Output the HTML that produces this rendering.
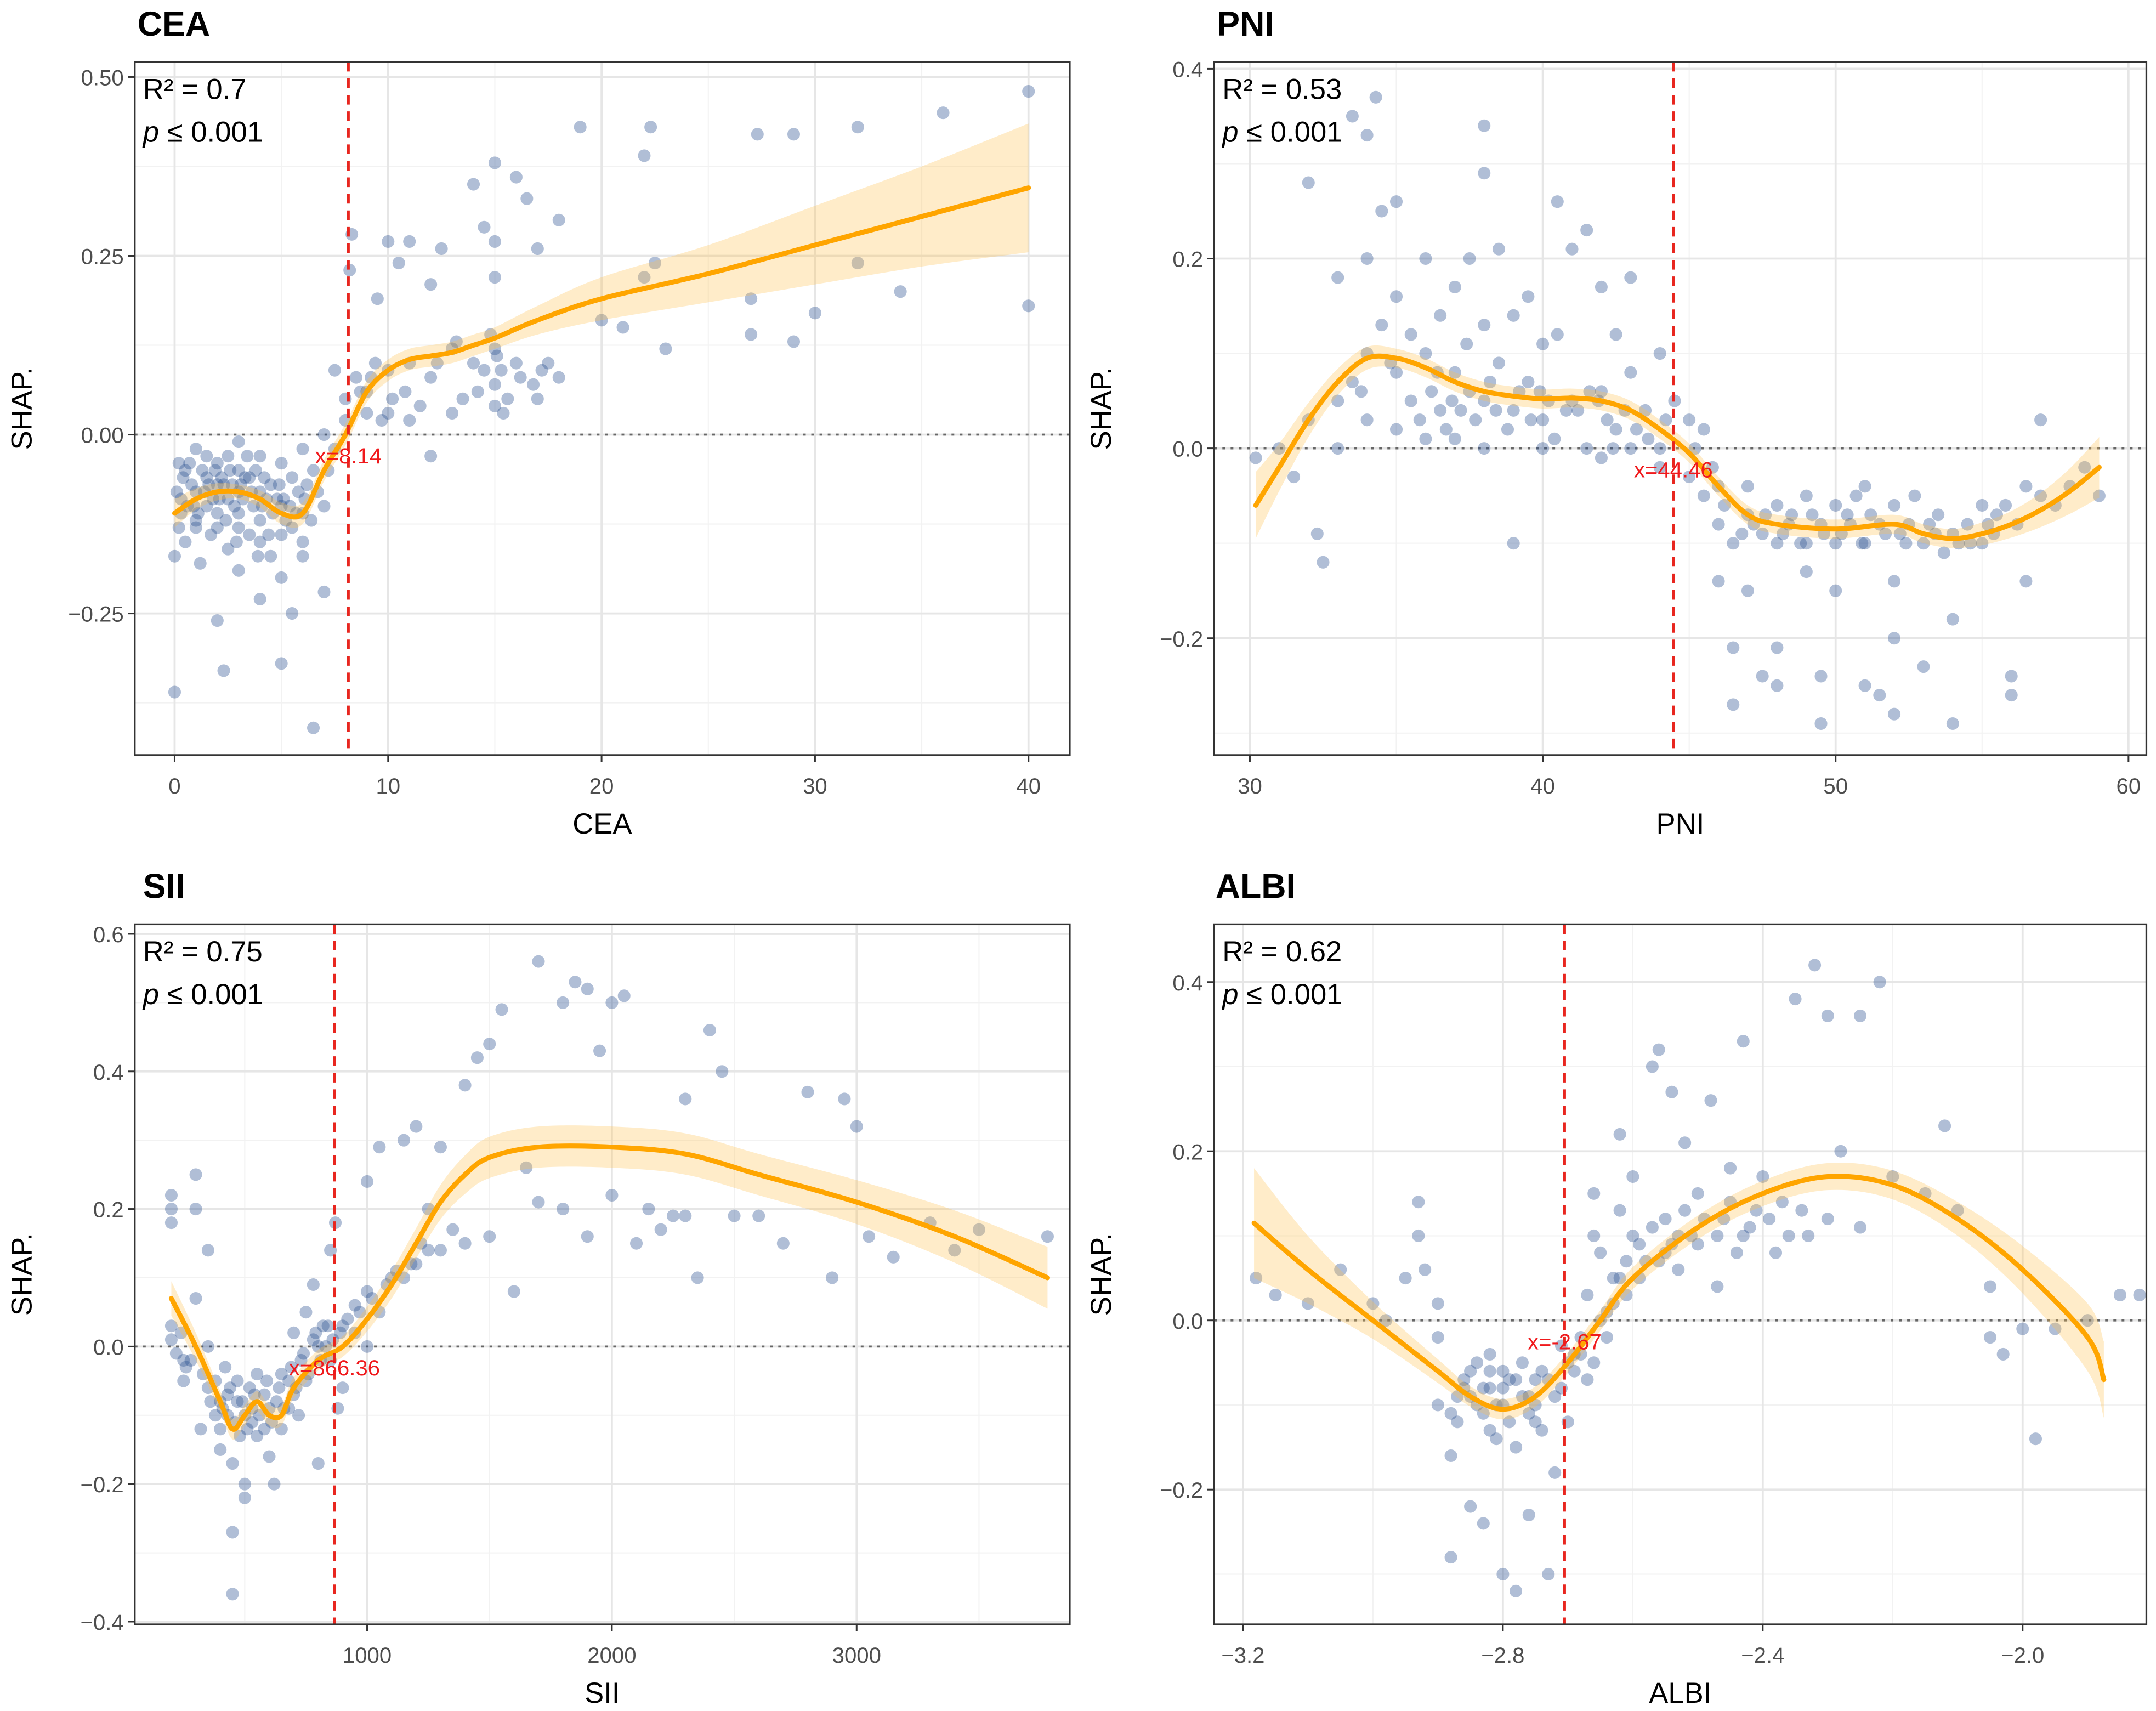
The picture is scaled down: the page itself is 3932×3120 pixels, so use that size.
<!DOCTYPE html>
<html><head><meta charset="utf-8">
<style>
html,body{margin:0;padding:0;background:#fff;}
svg{display:block;font-family:"Liberation Sans",Arial,sans-serif;}
</style></head>
<body>
<svg id="chart" width="3932" height="3120" viewBox="0 0 1568 1244" preserveAspectRatio="none" xmlns="http://www.w3.org/2000/svg"></svg>
<script>
// ---------- DATA ----------
const ceaPoints=[[0,-0.36],[0,-0.17],[0.2,-0.13],[0.3,-0.09],[0.5,-0.05],[0.5,-0.15],[1,-0.02],[1,-0.08],[1,-0.12],[1.2,-0.18],[1.5,-0.06],[1.5,-0.1],[2,-0.04],[2,-0.07],[2,-0.13],[2,-0.26],[2.3,-0.33],[2.5,-0.09],[2.5,-0.16],[3,-0.01],[3,-0.05],[3,-0.08],[3,-0.11],[3,-0.19],[3.5,-0.06],[3.5,-0.14],[4,-0.03],[4,-0.08],[4,-0.12],[4,-0.23],[4.5,-0.07],[4.5,-0.17],[5,-0.04],[5,-0.1],[5,-0.2],[5,-0.32],[5.5,-0.06],[5.5,-0.13],[5.5,-0.25],[6,-0.02],[6,-0.11],[6,-0.15],[6.5,-0.05],[6.5,-0.41],[7,-0.1],[7,-0.22],[7,0.0],[7.5,0.09],[7.5,-0.02],[8,0.05],[8,0.02],[8.2,0.23],[8.3,0.28],[8.5,0.08],[9,0.06],[9,0.03],[9.5,0.19],[10,0.27],[10,0.09],[10,0.03],[10.5,0.24],[11,0.27],[11,0.1],[11,0.02],[12,0.21],[12,0.08],[12,-0.03],[12.5,0.26],[13,0.12],[13,0.03],[14,0.35],[14,0.1],[14.5,0.29],[15,0.38],[15,0.27],[15,0.22],[15,0.12],[15,0.07],[15,0.04],[16,0.36],[16,0.1],[16.5,0.33],[17,0.26],[17,0.05],[18,0.3],[18,0.08],[19,0.43],[20,0.16],[21,0.15],[22,0.22],[22,0.39],[22.3,0.43],[22.5,0.24],[23,0.12],[27,0.19],[27,0.14],[27.3,0.42],[29,0.42],[29,0.13],[30,0.17],[32,0.43],[32,0.24],[34,0.2],[36,0.45],[40,0.48],[40,0.18],
[0.8,-0.07],[1.3,-0.05],[1.8,-0.09],[2.2,-0.06],[2.7,-0.07],[3.2,-0.09],[3.7,-0.1],[4.2,-0.06],[4.8,-0.09],[5.2,-0.12],[5.8,-0.08],[6.2,-0.07],[1.1,-0.11],[2.4,-0.12],[3.4,-0.03],[4.4,-0.14],[0.6,-0.1],[1.7,-0.14],[2.9,-0.15],[3.9,-0.17],[9.2,0.08],[9.7,0.02],[10.8,0.06],[13.5,0.05],[14.2,0.06],[15.3,0.09],[15.6,0.05],[16.2,0.08],[17.5,0.1],[14.8,0.14],[13.2,0.13],
[0.1,-0.08],[0.4,-0.06],[0.7,-0.04],[0.9,-0.1],[1.4,-0.08],[1.6,-0.07],[1.9,-0.05],[2.1,-0.09],[2.3,-0.07],[2.6,-0.05],[2.8,-0.1],[3.1,-0.07],[3.3,-0.06],[3.6,-0.08],[3.8,-0.05],[4.1,-0.1],[4.3,-0.09],[4.6,-0.11],[4.9,-0.07],[5.1,-0.09],[5.4,-0.1],[5.7,-0.11],[6.1,-0.09],[6.4,-0.12],[6.7,-0.08],[7.2,-0.05],[0.3,-0.11],[1.0,-0.13],[2.0,-0.11],[3.0,-0.13],[4.0,-0.15],[5.0,-0.14],[6.0,-0.17],[1.5,-0.03],[2.5,-0.03],[0.2,-0.04],[8.7,0.06],[9.4,0.1],[10.2,0.05],[11.5,0.04],[12.3,0.1],[14.5,0.09],[15.1,0.11],[15.4,0.03],[16.8,0.07],[17.2,0.09]];
const ceaCurveX=[0,1,2,3,4,5,6,7,8,9,10,11,12,13,14,15,17,20,25,30,35,40];
const ceaCurveY=[-0.11,-0.09,-0.08,-0.08,-0.09,-0.11,-0.11,-0.05,0.0,0.06,0.09,0.105,0.11,0.115,0.125,0.135,0.16,0.19,0.225,0.265,0.305,0.345];
const ceaCurveSE=[0.02,0.015,0.012,0.01,0.012,0.015,0.015,0.015,0.015,0.015,0.015,0.015,0.015,0.015,0.015,0.015,0.02,0.03,0.04,0.055,0.07,0.09];

const pniPoints=[[30.2,-0.01],[31,0.0],[31.5,-0.03],[32,0.28],[32,0.03],[32.3,-0.09],[32.5,-0.12],[33,0.18],[33,0.05],[33,0.0],[33.5,0.35],[33.5,0.07],[34,0.33],[34,0.2],[34,0.1],[34,0.03],[34.3,0.37],[34.5,0.25],[34.5,0.13],[35,0.26],[35,0.16],[35,0.08],[35,0.02],[35.5,0.12],[35.5,0.05],[36,0.2],[36,0.1],[36,0.01],[36.5,0.14],[36.5,0.04],[37,0.17],[37,0.08],[37,0.01],[37.5,0.2],[37.5,0.06],[38,0.34],[38,0.29],[38,0.13],[38,0.05],[38,0.0],[38.5,0.21],[38.5,0.09],[39,0.14],[39,0.04],[39,-0.1],[39.5,0.16],[39.5,0.07],[40,0.11],[40,0.03],[40,0.0],[40.5,0.26],[40.5,0.12],[41,0.21],[41,0.05],[41.5,0.23],[41.5,0.0],[42,0.17],[42,0.06],[42,-0.01],[42.5,0.12],[42.5,0.02],[43,0.18],[43,0.08],[43,0.0],[43.5,0.04],[44,0.1],[44,0.0],[44,-0.02],[44.5,0.05],[45,0.03],[45,-0.03],[45.5,0.02],[45.5,-0.05],[46,-0.04],[46,-0.08],[46,-0.14],[46.5,-0.1],[46.5,-0.21],[46.5,-0.27],[47,-0.04],[47,-0.07],[47,-0.15],[47.5,-0.09],[47.5,-0.24],[48,-0.06],[48,-0.1],[48,-0.21],[48,-0.25],[48.5,-0.07],[49,-0.05],[49,-0.1],[49,-0.13],[49.5,-0.08],[49.5,-0.24],[49.5,-0.29],[50,-0.06],[50,-0.1],[50,-0.15],[50.5,-0.08],[51,-0.04],[51,-0.1],[51,-0.25],[51.5,-0.08],[51.5,-0.26],[52,-0.06],[52,-0.14],[52,-0.2],[52,-0.28],[52.5,-0.08],[53,-0.1],[53,-0.23],[53.5,-0.07],[54,-0.09],[54,-0.18],[54,-0.29],[54.5,-0.08],[55,-0.06],[55,-0.1],[55.5,-0.07],[56,-0.24],[56,-0.26],[56.5,-0.14],[56.5,-0.04],[57,0.03],[57,-0.05],[58,-0.04],[59,-0.05],[58.5,-0.02],
[36.2,0.06],[37.2,0.04],[38.2,0.07],[39.2,0.06],[40.2,0.05],[41.2,0.04],[42.2,0.03],[43.2,0.02],[36.7,0.02],[37.7,0.03],[47.2,-0.08],[48.2,-0.09],[49.2,-0.07],[50.2,-0.09],[51.2,-0.07],[52.2,-0.09],[53.2,-0.08],[54.2,-0.1],[55.2,-0.08],[50.7,-0.05],[52.7,-0.05],[53.7,-0.11],
[33.8,0.06],[34.8,0.09],[35.8,0.03],[36.4,0.08],[37.4,0.11],[38.4,0.04],[38.8,0.02],[39.6,0.03],[40.4,0.01],[40.8,0.04],[41.6,0.06],[42.4,0.0],[42.8,0.04],[43.6,0.01],[44.2,0.03],[45.2,0.0],[45.8,-0.02],[46.2,-0.06],[46.8,-0.09],[47.6,-0.07],[48.4,-0.08],[48.8,-0.1],[49.6,-0.09],[50.4,-0.07],[50.9,-0.1],[51.7,-0.09],[52.4,-0.1],[53.4,-0.09],[54.6,-0.1],[55.4,-0.09],[55.8,-0.06],[56.2,-0.08],[57.5,-0.06],[36.9,0.05],[39.9,0.06],[41.9,0.05]];
const pniCurveX=[30.2,31,32,33,34,35,36,37,38,39,40,41,42,43,44,45,46,47,48,50,52,53,54,55,56,57,58,59];
const pniCurveY=[-0.06,-0.02,0.03,0.07,0.095,0.095,0.085,0.07,0.06,0.055,0.052,0.053,0.05,0.04,0.02,-0.005,-0.04,-0.07,-0.08,-0.085,-0.08,-0.09,-0.095,-0.09,-0.08,-0.065,-0.045,-0.02];
const pniCurveSE=[0.035,0.025,0.018,0.014,0.012,0.01,0.01,0.01,0.01,0.01,0.01,0.01,0.01,0.01,0.01,0.01,0.01,0.01,0.01,0.01,0.01,0.01,0.01,0.012,0.014,0.018,0.024,0.032];

const siiPoints=[[200,0.22],[200,0.2],[200,0.18],[200,0.03],[200,0.01],[250,-0.02],[250,-0.05],[300,0.25],[300,0.2],[300,0.07],[320,-0.12],[350,0.14],[350,0.0],[350,-0.06],[400,-0.08],[400,-0.12],[400,-0.15],[420,-0.03],[450,-0.17],[450,-0.27],[450,-0.36],[470,-0.08],[500,-0.1],[500,-0.2],[500,-0.22],[520,-0.06],[550,-0.04],[550,-0.13],[600,-0.09],[600,-0.16],[620,-0.2],[650,-0.04],[650,-0.12],[700,0.02],[700,-0.07],[720,-0.1],[750,0.05],[750,-0.05],[780,0.09],[800,-0.17],[800,0.0],[820,0.03],[850,0.14],[850,-0.02],[870,0.18],[880,-0.09],[900,0.03],[900,-0.06],[950,0.06],[1000,0.24],[1000,0.08],[1000,0.0],[1050,0.29],[1100,0.1],[1150,0.3],[1200,0.32],[1200,0.12],[1250,0.2],[1300,0.29],[1300,0.14],[1350,0.17],[1400,0.38],[1400,0.15],[1450,0.42],[1500,0.44],[1500,0.16],[1550,0.49],[1600,0.08],[1650,0.26],[1700,0.56],[1700,0.21],[1800,0.5],[1800,0.2],[1850,0.53],[1900,0.52],[1900,0.16],[1950,0.43],[2000,0.5],[2000,0.22],[2050,0.51],[2100,0.15],[2150,0.2],[2200,0.17],[2250,0.19],[2300,0.36],[2300,0.19],[2350,0.1],[2400,0.46],[2450,0.4],[2500,0.19],[2600,0.19],[2700,0.15],[2800,0.37],[2900,0.1],[2950,0.36],[3000,0.32],[3050,0.16],[3150,0.13],[3300,0.18],[3400,0.14],[3500,0.17],[3780,0.16],
[380,-0.1],[430,-0.07],[480,-0.13],[530,-0.09],[580,-0.07],[630,-0.08],[680,-0.05],[430,-0.1],[530,-0.11],[470,-0.05],[580,-0.12],[680,-0.09],[380,-0.05],[730,-0.02],[780,0.01],[830,0.0],[950,0.02],[1050,0.05],[1150,0.1],[1250,0.14],
[220,-0.01],[240,0.02],[260,-0.03],[280,-0.02],[330,-0.04],[360,-0.08],[410,-0.09],[440,-0.06],[460,-0.11],[490,-0.08],[510,-0.12],[540,-0.07],[560,-0.1],[590,-0.05],[610,-0.11],[640,-0.06],[660,-0.09],[690,-0.03],[710,-0.06],[740,-0.01],[760,-0.04],[790,0.02],[810,-0.02],[840,0.03],[860,0.01],[890,0.02],[920,0.04],[970,0.05],[1020,0.07],[1080,0.09],[1120,0.11],[1180,0.12],[1220,0.15]];
const siiCurveX=[200,300,400,450,500,550,600,650,700,800,900,1000,1100,1200,1300,1400,1500,1700,2000,2300,2600,3000,3400,3780];
const siiCurveY=[0.07,0.0,-0.08,-0.12,-0.1,-0.08,-0.1,-0.1,-0.06,-0.02,0.0,0.04,0.09,0.15,0.21,0.25,0.275,0.29,0.29,0.28,0.25,0.21,0.16,0.1];
const siiCurveSE=[0.025,0.02,0.015,0.015,0.015,0.015,0.015,0.015,0.015,0.015,0.015,0.018,0.02,0.022,0.025,0.028,0.03,0.03,0.03,0.03,0.03,0.032,0.038,0.045];

const albiPoints=[[-3.18,0.05],[-3.15,0.03],[-3.1,0.02],[-3.05,0.06],[-3.0,0.02],[-2.98,0.0],[-2.95,0.05],[-2.93,0.14],[-2.93,0.1],[-2.92,0.06],[-2.9,-0.1],[-2.9,-0.02],[-2.9,0.02],[-2.88,-0.16],[-2.88,-0.28],[-2.87,-0.12],[-2.86,-0.07],[-2.85,-0.22],[-2.85,-0.09],[-2.84,-0.05],[-2.83,-0.24],[-2.82,-0.13],[-2.82,-0.08],[-2.8,-0.06],[-2.8,-0.3],[-2.8,-0.1],[-2.78,-0.32],[-2.78,-0.15],[-2.76,-0.23],[-2.75,-0.07],[-2.75,-0.12],[-2.73,-0.3],[-2.72,-0.09],[-2.72,-0.18],[-2.7,-0.05],[-2.7,-0.12],[-2.68,-0.04],[-2.67,-0.07],[-2.67,0.03],[-2.66,0.15],[-2.65,0.0],[-2.65,0.08],[-2.64,-0.02],[-2.62,0.22],[-2.62,0.05],[-2.6,0.1],[-2.6,0.17],[-2.58,0.07],[-2.57,0.3],[-2.56,0.32],[-2.55,0.12],[-2.54,0.27],[-2.53,0.06],[-2.52,0.21],[-2.5,0.15],[-2.5,0.09],[-2.48,0.26],[-2.47,0.04],[-2.45,0.18],[-2.43,0.33],[-2.42,0.11],[-2.4,0.17],[-2.38,0.08],[-2.35,0.38],[-2.34,0.13],[-2.32,0.42],[-2.3,0.36],[-2.3,0.12],[-2.28,0.2],[-2.25,0.36],[-2.25,0.11],[-2.22,0.4],[-2.2,0.17],[-2.15,0.15],[-2.12,0.23],[-2.1,0.13],[-2.05,0.04],[-2.05,-0.02],[-2.03,-0.04],[-2.0,-0.01],[-1.98,-0.14],[-1.95,-0.01],[-1.9,0.0],[-1.85,0.03],[-1.82,0.03],[-1.8,0.03],
[-2.86,-0.08],[-2.84,-0.1],[-2.82,-0.06],[-2.8,-0.08],[-2.78,-0.07],[-2.76,-0.09],[-2.74,-0.06],[-2.83,-0.11],[-2.79,-0.12],[-2.77,-0.05],[-2.71,-0.03],[-2.69,-0.06],[-2.63,0.02],[-2.61,0.03],[-2.59,0.05],[-2.56,0.07],[-2.54,0.09],[-2.51,0.1],[-2.46,0.12],[-2.44,0.08],[-2.41,0.13],[-2.37,0.14],[-2.33,0.1],
[-2.87,-0.09],[-2.85,-0.06],[-2.83,-0.08],[-2.81,-0.1],[-2.79,-0.07],[-2.77,-0.09],[-2.75,-0.1],[-2.73,-0.07],[-2.71,-0.08],[-2.69,-0.04],[-2.68,-0.02],[-2.66,-0.05],[-2.64,0.01],[-2.63,0.05],[-2.61,0.07],[-2.59,0.09],[-2.57,0.11],[-2.55,0.08],[-2.53,0.1],[-2.52,0.13],[-2.49,0.12],[-2.47,0.1],[-2.45,0.14],[-2.43,0.1],[-2.39,0.12],[-2.36,0.1],[-2.82,-0.04],[-2.76,-0.11],[-2.88,-0.11],[-2.81,-0.14],[-2.74,-0.13],[-2.66,0.1],[-2.62,0.13]];
const albiCurveX=[-3.183,-3.1,-3.0,-2.9,-2.85,-2.8,-2.75,-2.7,-2.65,-2.6,-2.5,-2.4,-2.3,-2.2,-2.1,-2.0,-1.9,-1.875];
const albiCurveY=[0.115,0.06,0.0,-0.06,-0.09,-0.105,-0.09,-0.05,0.0,0.05,0.11,0.15,0.17,0.16,0.12,0.06,-0.02,-0.07];
const albiCurveSE=[0.065,0.04,0.022,0.014,0.012,0.012,0.012,0.012,0.012,0.013,0.014,0.015,0.016,0.017,0.02,0.028,0.04,0.045];

const ceaXTicks=[0,10,20,30,40];
const ceaYTicks=[0.5,0.25,0,-0.25];
const ceaYTickLabels=["0.50","0.25","0.00","\u22120.25"];
const pniXTicks=[30,40,50,60];
const pniYTicks=[0.4,0.2,0,-0.2];
const pniYTickLabels=["0.4","0.2","0.0","\u22120.2"];
const siiXTicks=[1000,2000,3000];
const siiYTicks=[0.6,0.4,0.2,0,-0.2,-0.4];
const siiYTickLabels=["0.6","0.4","0.2","0.0","\u22120.2","\u22120.4"];
const albiXTicks=[-3.2,-2.8,-2.4,-2.0];
const albiXTickLabels=["\u22123.2","\u22122.8","\u22122.4","\u22122.0"];
const albiYTicks=[0.4,0.2,0,-0.2];
const albiYTickLabels=["0.4","0.2","0.0","\u22120.2"];

const panelTitles=["CEA","PNI","SII","ALBI"];
const r2Values=["0.7","0.53","0.75","0.62"];
const thresholds=[8.14,44.46,866.36,-2.705];
const thresholdLabels=["x=8.14","x=44.46","x=866.36","x=-2.67"];

// ---------- DRAWING ----------
const NS="http://www.w3.org/2000/svg";
const svg=document.getElementById('chart');
function mk(tag,attrs,parent){const e=document.createElementNS(NS,tag);for(const k in attrs)e.setAttribute(k,attrs[k]);(parent||svg).appendChild(e);return e;}
function lin(d0,d1,r0,r1){return v=>r0+(v-d0)/(d1-d0)*(r1-r0);}
function smoothPath(P,move){
  let d=(move?'M':'L')+P[0][0]+','+P[0][1];
  for(let i=0;i<P.length-1;i++){
    const p0=P[Math.max(0,i-1)],p1=P[i],p2=P[i+1],p3=P[Math.min(P.length-1,i+2)];
    const c1x=p1[0]+(p2[0]-p0[0])/6,c1y=p1[1]+(p2[1]-p0[1])/6;
    const c2x=p2[0]-(p3[0]-p1[0])/6,c2y=p2[1]-(p3[1]-p1[1])/6;
    d+=' C'+c1x+','+c1y+' '+c2x+','+c2y+' '+p2[0]+','+p2[1];
  }
  return d;
}

const panels=[
 {key:'cea',box:[98,45,778,549],xs:lin(0,40,127,748),ys:lin(0,0.25,316,186),xt:ceaXTicks,xtl:ceaXTicks.map(String),xminor:[-5,5,15,25,35],yt:ceaYTicks,ytl:ceaYTickLabels,yminor:[0.375,0.125,-0.125,-0.375],pts:ceaPoints,cx:ceaCurveX,cy:ceaCurveY,cs:ceaCurveSE,titleX:100,titleY:26},
 {key:'pni',box:[883,45,1561,549],xs:lin(30,60,909,1548),ys:lin(0,0.2,326,188),xt:pniXTicks,xtl:pniXTicks.map(String),xminor:[35,45,55],yt:pniYTicks,ytl:pniYTickLabels,yminor:[0.3,0.1,-0.1,-0.3],pts:pniPoints,cx:pniCurveX,cy:pniCurveY,cs:pniCurveSE,titleX:885,titleY:26},
 {key:'sii',box:[98,672,778,1181],xs:lin(1000,2000,267,445),ys:lin(0,0.2,979,879),xt:siiXTicks,xtl:siiXTicks.map(String),xminor:[500,1500,2500,3500],yt:siiYTicks,ytl:siiYTickLabels,yminor:[0.5,0.3,0.1,-0.1,-0.3],pts:siiPoints,cx:siiCurveX,cy:siiCurveY,cs:siiCurveSE,titleX:104,titleY:653},
 {key:'albi',box:[883,672,1561,1181],xs:lin(-3.2,-2.8,904,1093),ys:lin(0,0.2,960,837),xt:albiXTicks,xtl:albiXTickLabels,xminor:[-3.0,-2.6,-2.2,-1.8],yt:albiYTicks,ytl:albiYTickLabels,yminor:[0.3,0.1,-0.1,-0.3],pts:albiPoints,cx:albiCurveX,cy:albiCurveY,cs:albiCurveSE,titleX:884,titleY:653}
];

panels.forEach((p,i)=>{
  const [x0,y0,x1,y1]=p.box;
  const g=mk('g',{});
  
  
  const clipId='clip-'+p.key;
  const cp=mk('clipPath',{id:clipId},g); mk('rect',{x:x0,y:y0,width:x1-x0,height:y1-y0},cp);
  const bg=mk('rect',{x:x0,y:y0,width:x1-x0,height:y1-y0,fill:'#fff'},g);
  
  
  const grid=mk('g',{'clip-path':'url(#'+clipId+')'},g);
  
  
  p.xminor.forEach(v=>mk('line',{x1:p.xs(v),x2:p.xs(v),y1:y0,y2:y1,stroke:'#f2f2f2','stroke-width':0.8},grid));
  p.yminor.forEach(v=>mk('line',{x1:x0,x2:x1,y1:p.ys(v),y2:p.ys(v),stroke:'#f2f2f2','stroke-width':0.8},grid));
  p.xt.forEach(v=>mk('line',{x1:p.xs(v),x2:p.xs(v),y1:y0,y2:y1,stroke:'#e6e6e6','stroke-width':1.5},grid));
  p.yt.forEach(v=>mk('line',{x1:x0,x2:x1,y1:p.ys(v),y2:p.ys(v),stroke:'#e6e6e6','stroke-width':1.5},grid));
  const inner=mk('g',{'clip-path':'url(#'+clipId+')'},g);
  const zl=mk('line',{x1:x0,x2:x1,y1:p.ys(0),y2:p.ys(0),stroke:'#666','stroke-width':1.5,'stroke-dasharray':'2,4'},inner);
  
  
  const pg=mk('g',{},inner);
  
  
  p.pts.forEach(d=>{
    const c=mk('circle',{cx:p.xs(d[0]),cy:p.ys(d[1]),r:4.6,fill:'#2f5393','fill-opacity':0.38},pg);
    
    
  });
  const up=p.cx.map((x,k)=>[p.xs(x),p.ys(p.cy[k]+p.cs[k])]);
  const lo=p.cx.map((x,k)=>[p.xs(x),p.ys(p.cy[k]-p.cs[k])]).reverse();
  const band=mk('path',{d:smoothPath(up,true)+' '+smoothPath(lo,false)+' Z',fill:'#ffc04d','fill-opacity':0.3},inner);
  
  
  const mid=p.cx.map((x,k)=>[p.xs(x),p.ys(p.cy[k])]);
  const curve=mk('path',{d:smoothPath(mid,true),fill:'none',stroke:'#ffa500','stroke-width':3.6,'stroke-linejoin':'round','stroke-linecap':'round'},inner);
  
  
  const tx=p.xs(thresholds[i]);
  const vl=mk('line',{x1:tx,x2:tx,y1:y0,y2:y1,stroke:'#e8261f','stroke-width':2,'stroke-dasharray':'7,5'},inner);
  
  
  const tl=mk('text',{x:tx,y:p.ys(0)+21,'text-anchor':'middle','font-size':16,fill:'#f0191c'},inner);
  tl.textContent=thresholdLabels[i];
  
  
  const br=mk('rect',{x:x0,y:y0,width:x1-x0,height:y1-y0,fill:'none',stroke:'#333','stroke-width':1.3},g);
  
  
  const st=mk('text',{x:x0+6,y:y0+27,'font-size':21,fill:'#000'},g);
  st.textContent='R\u00B2 = '+r2Values[i];
  
  
  const pv=mk('text',{x:x0+6,y:y0+58,'font-size':21,fill:'#000'},g);
  const it=mk('tspan',{'font-style':'italic'},pv); it.textContent='p';
  const rs=mk('tspan',{},pv); rs.textContent=' \u2264 0.001';
  
  
  const ax=mk('g',{},g);
  
  
  p.xt.forEach((v,k)=>{
    mk('line',{x1:p.xs(v),x2:p.xs(v),y1:y1,y2:y1+5,stroke:'#333','stroke-width':1.2},ax);
    const t=mk('text',{x:p.xs(v),y:y1+28,'text-anchor':'middle','font-size':16,fill:'#4d4d4d'},ax);
    t.textContent=p.xtl[k];
    
    
  });
  const ay=mk('g',{},g);
  
  
  p.yt.forEach((v,k)=>{
    mk('line',{x1:x0-5,x2:x0,y1:p.ys(v),y2:p.ys(v),stroke:'#333','stroke-width':1.2},ay);
    const t=mk('text',{x:x0-8,y:p.ys(v)+6,'text-anchor':'end','font-size':16,fill:'#4d4d4d'},ay);
    t.textContent=p.ytl[k];
    
    
  });
  const xt=mk('text',{x:(x0+x1)/2,y:y1+57,'text-anchor':'middle','font-size':21,fill:'#000'},g);
  xt.textContent=panelTitles[i];
  
  
  const yc=(y0+y1)/2, yx=x0-75;
  const yt=mk('text',{x:yx,y:yc,'text-anchor':'middle','font-size':21,fill:'#000',transform:'rotate(-90 '+yx+' '+yc+')'},g);
  yt.textContent='SHAP.';
  
  
  const ti=mk('text',{x:p.titleX,y:p.titleY,'font-size':25,'font-weight':'bold',fill:'#000'},g);
  ti.textContent=panelTitles[i];
  
  
});
</script>
</body></html>
